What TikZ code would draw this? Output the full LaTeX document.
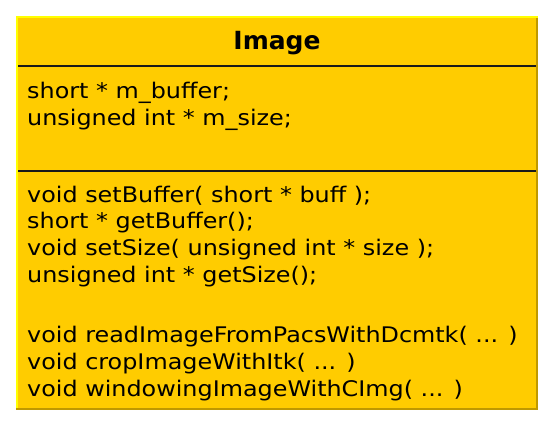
\documentclass[tikz,border=0pt]{standalone}
\usepackage{fontspec}
\setmainfont{DejaVu Sans}
\newfontfamily\memberfont{DejaVu Sans}[FakeStretch=1.11]
\definecolor{classfill}{HTML}{FFCC00}
\definecolor{bevellight}{HTML}{FFFF00}
\definecolor{beveldark}{HTML}{BF9900}
\tikzset{
  classtitle/.style={font=\fontsize{25}{30}\selectfont\bfseries, inner sep=0pt, anchor=base},
  members/.style={font=\memberfont\fontsize{21.5}{26.7}\selectfont, align=left, inner sep=0pt, anchor=base west},
  separator/.style={line width=2pt, black!90},
}
\begin{document}
\begin{tikzpicture}[x=1pt, y=-1pt]
  \useasboundingbox (0,0) rectangle (554,426);
  % class box with bevelled edges
  \fill[classfill] (16,16) rectangle (538,410);
  \fill[beveldark] (536,16) rectangle (538,410);
  \fill[beveldark] (16,408) rectangle (538,410);
  \fill[bevellight] (16,16) rectangle (538,18);
  \fill[bevellight] (16,16) rectangle (18,408);
  % compartment separators
  \coordinate (s1w) at (18,66);
  \coordinate (s1e) at (536,66);
  \coordinate (s2w) at (18,170.5);
  \coordinate (s2e) at (536,170.5);
  \draw[separator] (s1w) -- (s1e);
  \draw[separator] (s2w) -- (s2e);
  % class name
  \node[classtitle] (name) at (277,49) {Image};
  % attributes (node base = baseline of the last line)
  \node[members] (attrs) at (27,125) {short * m\_buffer;\\unsigned int * m\_size;};
  % operations: accessors, then processing steps
  \node[members] (access) at (27,282.3) {void setBuffer( short * buff );\\
    short * getBuffer();\\
    void setSize( unsigned int * size );\\
    unsigned int * getSize();};
  \node[members] (process) at (27,396) {void readImageFromPacsWithDcmtk( ... )\\
    void cropImageWithItk( ... )\\
    void windowingImageWithCImg( ... )};
\end{tikzpicture}
\end{document}
